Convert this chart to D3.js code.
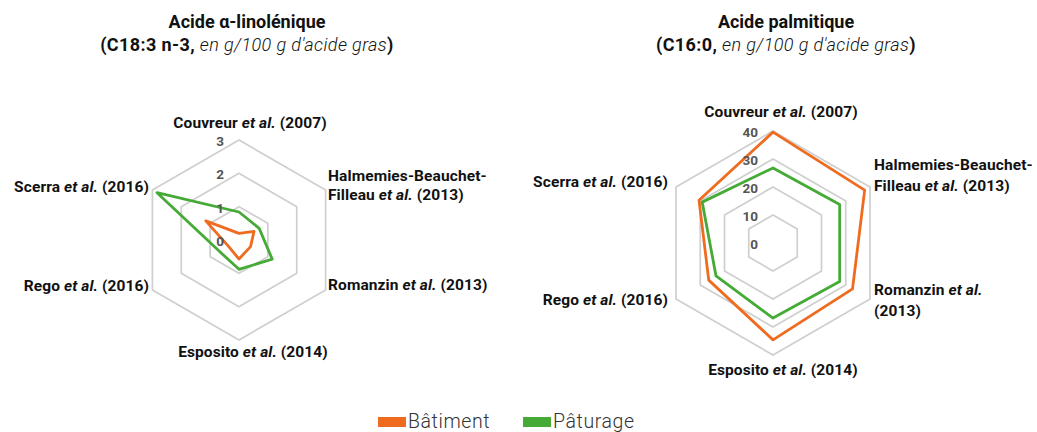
<!DOCTYPE html>
<html>
<head>
<meta charset="utf-8">
<title>Radar acides gras</title>
<style>
  body { margin: 0; background: #fff; font-family: Roboto, "Liberation Sans", sans-serif; }
  .grid { fill: none; stroke: #cfcfcf; stroke-width: 1.7px; }
  .serie { fill: none; stroke-width: 2.8px; stroke-linejoin: round; }
  .lbl { font-size: 15.5px; font-weight: bold; fill: #111; letter-spacing: 0.1px; }
  .tick { font-size: 13.5px; font-weight: bold; fill: #555; }
  .title { font-weight: bold; fill: #111; }
  .legend text { font-size: 19.5px; font-weight: 300; fill: #333; letter-spacing: 0.6px; }
</style>
<script src="https://cdn.jsdelivr.net/npm/d3@7"></script>
</head>
<body>
<script>
// axes (clockwise from top)
var studies = ["Couvreur", "Halmemies", "Romanzin", "Esposito", "Rego", "Scerra"];
var seriesNames = ["Bâtiment", "Pâturage"];
var colors = ["#ef6b1f", "#45aa36"];

// C18:3 n-3
var alaBatiment = [0.2, 0.52, 0.4, 0.57, 0.37, 1.15];
var alaPaturage = [0.84, 0.7, 1.15, 0.88, 0.68, 2.84];
var alaTicks = [0, 1, 2, 3];

// C16:0
var palBatiment = [39.6, 37.8, 32.8, 34.6, 26.5, 30.5];
var palPaturage = [26.8, 27.5, 27.5, 26.8, 23.5, 29.2];
var palTicks = [0, 10, 20, 30, 40];

var W = 1037, H = 432;
var svg = d3.select("body").append("svg")
    .attr("width", W)
    .attr("height", H);

function label(g, x, y, anchor, lines, gap) {
  var t = g.append("text").attr("class", "lbl")
      .attr("x", x).attr("y", y).attr("text-anchor", anchor);
  lines.forEach(function(parts, i) {
    parts.forEach(function(p, j) {
      var ts = t.append("tspan").text(p[0]);
      if (j == 0) ts.attr("x", x).attr("dy", i == 0 ? 0 : gap);
      if (p[1]) ts.attr("font-style", "italic");
    });
  });
}

function radar(opt) {
  var g = svg.append("g");
  var r = d3.scaleLinear().domain([0, d3.max(opt.ticks)]).range([0, opt.R]);
  var angle = d3.scalePoint().domain(studies.concat(["end"])).range([0, 2 * Math.PI]);

  var hex = d3.lineRadial()
      .angle(function(d) { return angle(d); })
      .curve(d3.curveLinearClosed);

  // hexagon grid
  opt.ticks.slice(1).forEach(function(t) {
    g.append("path")
        .attr("class", "grid")
        .attr("transform", "translate(" + opt.cx + "," + opt.cy + ")")
        .attr("d", hex.radius(r(t))(studies));
  });

  var line = d3.lineRadial()
      .angle(function(d, i) { return angle(studies[i]); })
      .radius(function(d) { return r(d); })
      .curve(d3.curveLinearClosed);

  opt.data.forEach(function(vals, k) {
    g.append("path")
        .attr("class", "serie")
        .attr("transform", "translate(" + opt.cx + "," + opt.cy + ")")
        .attr("stroke", colors[k])
        .attr("d", line(vals));
  });

  // tick values along the top axis
  g.selectAll(".tick").data(opt.ticks).enter().append("text")
      .attr("class", "tick")
      .attr("x", opt.cx - 15)
      .attr("y", function(d) { return opt.cy - r(d) + 6; })
      .attr("text-anchor", "end")
      .text(function(d) { return d; });

  // title
  var tt = g.append("text").attr("class", "title").attr("text-anchor", "middle");
  tt.append("tspan").attr("x", opt.tx).attr("y", 28).attr("font-size", "18px").text(opt.title);
  var l2 = tt.append("tspan").attr("x", opt.tx).attr("y", 51)
      .attr("font-size", "18px").attr("letter-spacing", "0.4px");
  l2.append("tspan").text(opt.sub);
  l2.append("tspan").attr("font-weight", "300").attr("font-style", "italic").text(" en g/100 g d'acide gras");
  l2.append("tspan").text(")");

  opt.labels.forEach(function(l) { label(g, l[0], l[1], l[2], l[3], opt.gap); });
}

var EA = [" et al.", true];

radar({
  cx: 239, cy: 240, R: 100, ticks: alaTicks, gap: 19,
  data: [alaBatiment, alaPaturage],
  tx: 247, title: "Acide α-linolénique", sub: "(C18:3 n-3,",
  labels: [
    [250, 128, "middle", [[["Couvreur"], EA, [" (2007)"]]]],
    [328, 181, "start", [[["Halmemies-Beauchet-"]], [["Filleau"], EA, [" (2013)"]]]],
    [328, 290, "start", [[["Romanzin"], EA, [" (2013)"]]]],
    [253, 357, "middle", [[["Esposito"], EA, [" (2014)"]]]],
    [149, 291, "end", [[["Rego"], EA, [" (2016)"]]]],
    [149, 192, "end", [[["Scerra"], EA, [" (2016)"]]]]
  ]
});

radar({
  cx: 773, cy: 243, R: 112, ticks: palTicks, gap: 20.5,
  data: [palBatiment, palPaturage],
  tx: 786, title: "Acide palmitique", sub: "(C16:0,",
  labels: [
    [781, 117, "middle", [[["Couvreur"], EA, [" (2007)"]]]],
    [874, 170, "start", [[["Halmemies-Beauchet-"]], [["Filleau"], EA, [" (2013)"]]]],
    [874, 295, "start", [[["Romanzin  "], EA], [["(2013)"]]]],
    [783, 375, "middle", [[["Esposito"], EA, [" (2014)"]]]],
    [668, 305, "end", [[["Rego"], EA, [" (2016)"]]]],
    [668, 187, "end", [[["Scerra"], EA, [" (2016)"]]]]
  ]
});

// legend
var legendX = [378, 523];
var lg = svg.append("g").attr("class", "legend");
seriesNames.forEach(function(s, i) {
  lg.append("rect")
      .attr("x", legendX[i]).attr("y", 417)
      .attr("width", 28).attr("height", 10)
      .attr("fill", colors[i]);
  lg.append("text")
      .attr("x", legendX[i] + 30).attr("y", 428)
      .text(s);
});
</script>
</body>
</html>
